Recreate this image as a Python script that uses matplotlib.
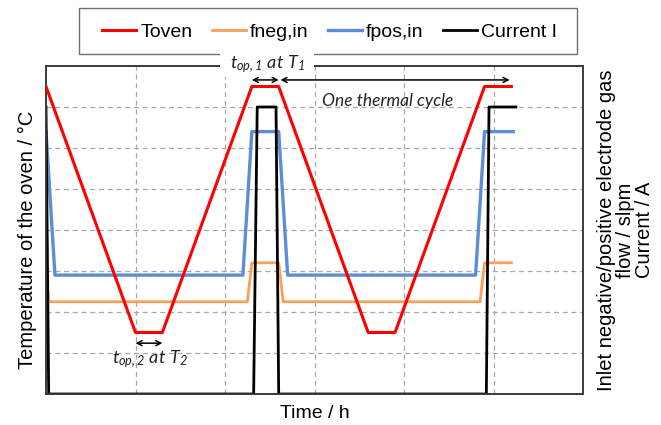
import matplotlib
matplotlib.use("Agg")
import matplotlib.pyplot as plt
from matplotlib.patches import Rectangle

# ---- data (arbitrary units) ----
time_oven = [0, 1.0, 1.3, 2.3, 2.6, 3.6, 3.9, 4.9, 5.2]
T_oven = [7.5, 1.5, 1.5, 7.5, 7.5, 1.5, 1.5, 7.5, 7.5]

time_fneg = [0, 0.03, 2.25, 2.3, 2.6, 2.65, 4.85, 4.9, 5.2]
f_neg = [3.2, 2.25, 2.25, 3.2, 3.2, 2.25, 2.25, 3.2, 3.2]

time_fpos = [0, 0.1, 2.2, 2.3, 2.6, 2.7, 4.8, 4.9, 5.22]
f_pos = [6.4, 2.9, 2.9, 6.4, 6.4, 2.9, 2.9, 6.4, 6.4]

time_I = [0, 0.03, 2.32, 2.36, 2.57, 2.6, 4.92, 4.95, 5.25]
current = [7.0, 0, 0, 7.0, 7.0, 0, 0, 7.0, 7.0]

series_labels = ["Toven", "fneg,in", "fpos,in", "Current I"]

plt.rcParams['font.family'] = ['Liberation Sans', 'DejaVu Sans']
plt.rcParams['mathtext.fontset'] = 'custom'
plt.rcParams['mathtext.it'] = 'Lato:italic'
plt.rcParams['mathtext.rm'] = 'Lato:italic'

fig = plt.figure(figsize=(6.61, 4.25), dpi=100)
W, H = 661, 425
l, r, b, t = 46, 583, 394, 66
ax2 = fig.add_axes([l / W, 1 - b / H, (r - l) / W, (b - t) / H])
ax = ax2.twinx()  # temperature axis on top for drawing order
ax.set_position(ax2.get_position())

for a in (ax, ax2):
    a.set_xlim(0, 6)
    a.set_ylim(0, 8)
    a.set_xticks(range(1, 6))
    a.set_yticks(range(1, 8))
    a.tick_params(length=0, labelleft=False, labelright=False, labelbottom=False)
    for s in a.spines.values():
        s.set_color('#3a3a3a')
        s.set_linewidth(1.2)

ax2.grid(True, color='#a8a8a8', linestyle=(0, (4, 3)), linewidth=0.9)
ax2.set_axisbelow(True)

c_red, c_orange, c_blue, c_black = '#ff0000', '#f9a05a', '#5b8ed6', '#000000'
h2, = ax2.plot(time_fneg, f_neg, color=c_orange, lw=2.0, label=series_labels[1], zorder=3)
h3, = ax2.plot(time_fpos, f_pos, color=c_blue, lw=2.4, label=series_labels[2], zorder=3)
h4, = ax2.plot(time_I, current, color=c_black, lw=2.0, label=series_labels[3], zorder=4)
h1, = ax.plot(time_oven, T_oven, color=c_red, lw=2.2, label=series_labels[0], zorder=5)

# labels
ax2.set_ylabel("Temperature of the oven / °C", fontsize=14.5)
ax2.yaxis.set_label_position('left')
ax2.yaxis.set_label_coords(-0.017, 0.47)
ax.set_ylabel("Inlet negative/positive electrode gas\nflow / slpm\nCurrent / A",
              fontsize=14.5, linespacing=1.0)
ax.yaxis.set_label_position('right')
ax.yaxis.set_label_coords(1.026, 0.5)
ax2.set_xlabel("Time / h", fontsize=14)
ax2.xaxis.set_label_coords(0.5, -0.035)

# annotations
arr = dict(arrowstyle='<->,head_length=0.35,head_width=0.18', color='black', lw=1.1,
           shrinkA=0, shrinkB=0)
ax.annotate('', xy=(2.3, 7.66), xytext=(2.6, 7.66), arrowprops=arr, annotation_clip=False)
ax.annotate('', xy=(2.62, 7.66), xytext=(5.18, 7.66), arrowprops=arr, annotation_clip=False)
ax.annotate('', xy=(1.0, 1.24), xytext=(1.3, 1.24), arrowprops=arr)
ax.text(3.82, 7.15, 'One thermal cycle', fontsize=12.5, family='Lato',
        style='italic', ha='center', va='center', color='#222222')
ax.text(1.16, 0.85, r'$t_{op,2}\ at\ T_2$', fontsize=13, ha='center', va='center',
        color='#222222')

# legend frame drawn separately, legend entries centred inside
fig.patches.append(Rectangle((79 / W, 1 - 54 / H), 498 / W, 46 / H, transform=fig.transFigure,
                             fc='white', ec='#707070', lw=1.0, zorder=4))
leg = fig.legend(handles=[h1, h2, h3, h4], loc='center', ncol=4,
                 bbox_to_anchor=(329.5 / W, 1 - 32 / H),
                 fontsize=14, frameon=False,
                 handlelength=1.75, handletextpad=0.2, columnspacing=1.0,
                 borderpad=0.2, borderaxespad=0)
leg.set_zorder(6)

# white patch behind the t_op,1 label, breaking the frame lines
fig.patches.append(Rectangle((220 / W, 1 - 77 / H), 94 / W, 26 / H, transform=fig.transFigure,
                             fc='white', ec='none', zorder=15))
fig.text(267 / W, 1 - 64 / H, r'$t_{op,1}\ at\ T_1$', fontsize=13, ha='center',
         va='center', color='#222222', zorder=20)

fig.savefig('out.png', dpi=100)
